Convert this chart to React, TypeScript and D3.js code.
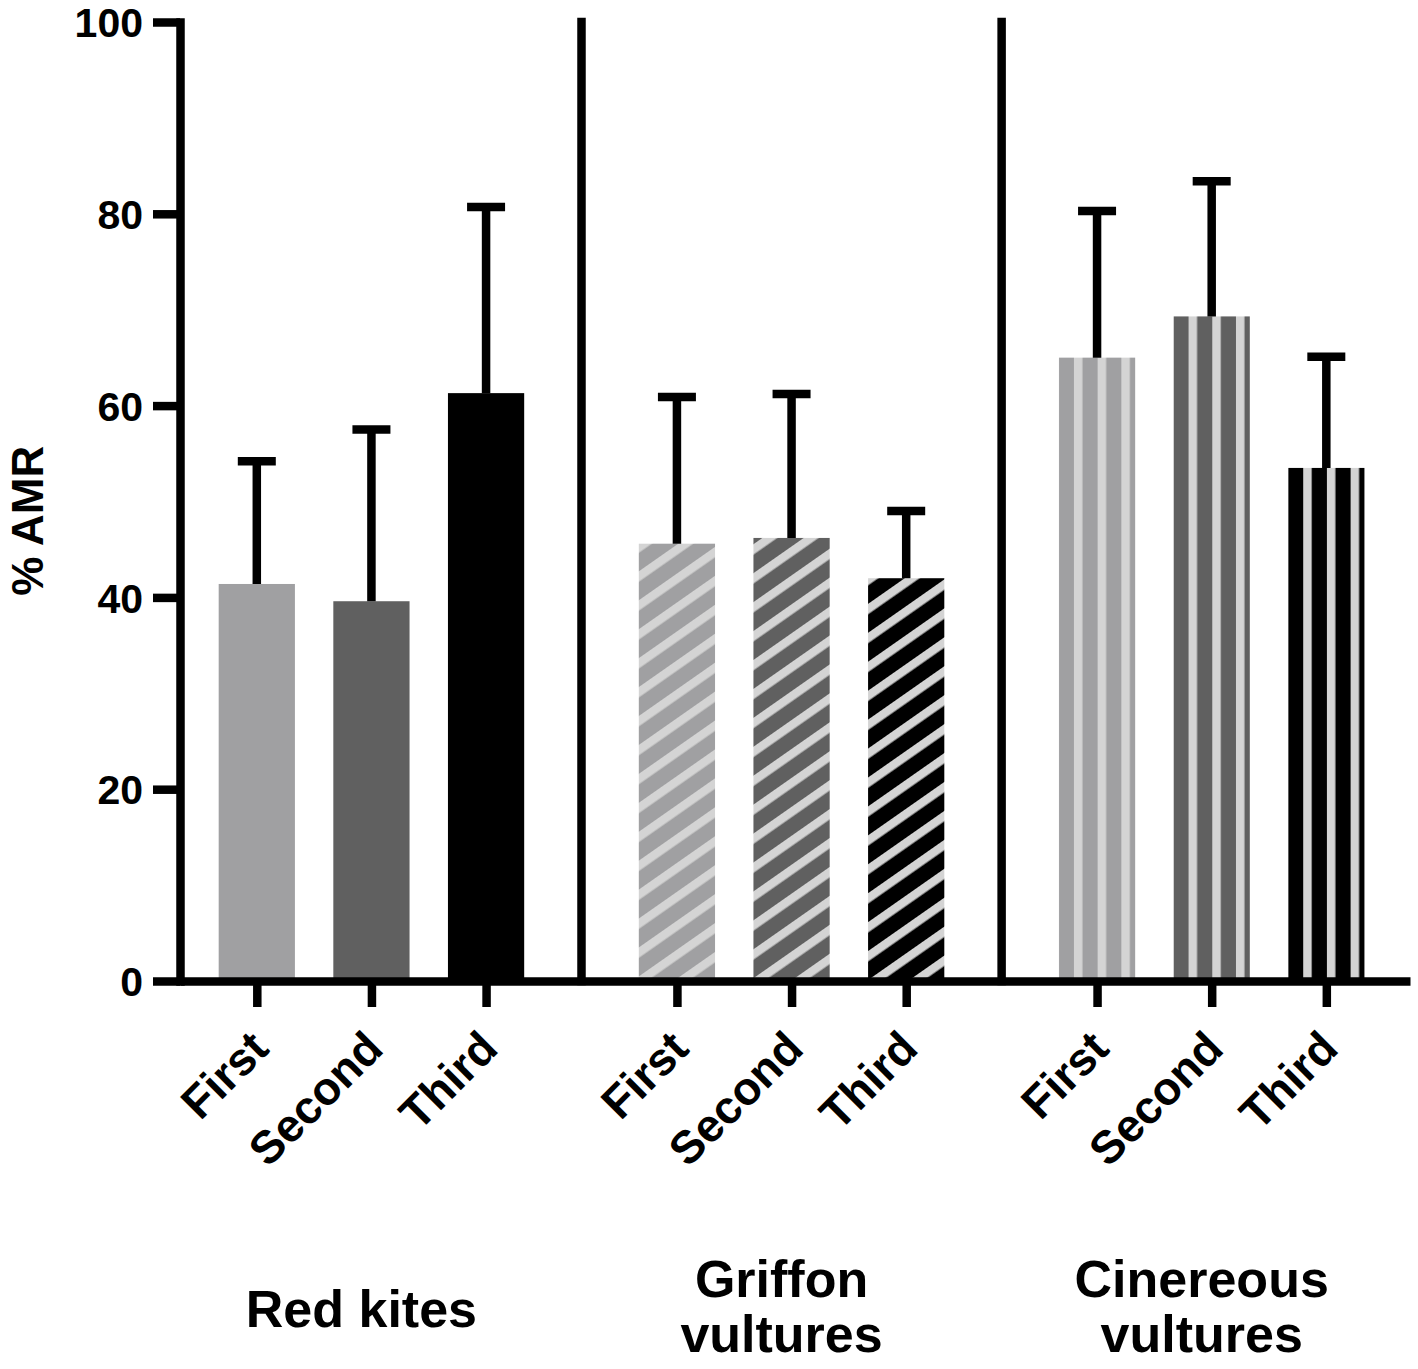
import { useRef, useEffect } from 'react';
import * as d3 from 'd3';

const groups = ['Red kites', 'Griffon vultures', 'Cinereous vultures'];
const groupLines = [['Red kites'], ['Griffon', 'vultures'], ['Cinereous', 'vultures']];
const orders = ['First', 'Second', 'Third'];

// mean % AMR and top of the error bar, per sampling order
const redKitesMean = [41.4, 39.6, 61.3];
const redKitesUpper = [54.2, 57.5, 80.7];
const griffonMean = [45.6, 46.2, 42.0];
const griffonUpper = [60.9, 61.2, 49.0];
const cinereousMean = [65.0, 69.3, 53.5];
const cinereousUpper = [80.3, 83.4, 65.1];

const yTicks = [0, 20, 40, 60, 80, 100];

const orderColors = ['#a0a0a2', '#606060', '#000000'];
const stripeColor = '#d4d4d4';
const groupPattern = ['solid', 'diagonal', 'vertical'];

type Bar = { group: number; order: number; mean: number; upper: number; pos: number };

export default function App() {
  const svgRef = useRef<SVGSVGElement>(null);

  useEffect(() => {
    document.body.style.margin = '0';
    if (!svgRef.current) return;
    const svg = d3.select(svgRef.current);
    svg.selectAll('*').remove();

    const font = '"Liberation Sans", Arial, Helvetica, sans-serif';
    const means = [redKitesMean, griffonMean, cinereousMean];
    const uppers = [redKitesUpper, griffonUpper, cinereousUpper];
    const groupStep = 3.665;
    const bars: Bar[] = [];
    groups.forEach((_, g) => orders.forEach((_, i) => {
      bars.push({ group: g, order: i, mean: means[g][i], upper: uppers[g][i], pos: g * groupStep + i });
    }));

    const x = d3.scaleLinear().domain([-0.67, 10.06]).range([180, 1410]);
    const y = d3.scaleLinear().domain([0, 100]).range([981, 22]);
    const slot = x(1) - x(0);
    const bw = slot * 0.665;

    // patterns
    const defs = svg.append('defs');
    bars.forEach((b, k) => {
      const kind = groupPattern[b.group];
      if (kind === 'solid') return;
      const left = x(b.pos) - bw / 2;
      const p = defs.append('pattern').attr('id', `pat${k}`)
        .attr('patternUnits', 'userSpaceOnUse')
        .attr('width', 23.7).attr('height', 20);
      if (kind === 'vertical') p.attr('x', left + 15).attr('y', 0);
      else p.attr('x', left + 6).attr('y', y(b.mean)).attr('patternTransform', 'rotate(55)');
      p.append('rect').attr('width', 23.7).attr('height', 20).attr('fill', orderColors[b.order]);
      p.append('rect').attr('width', 8.5).attr('height', 20).attr('fill', stripeColor);
    });

    const g = svg.append('g');

    // bars
    g.selectAll('rect.bar').data(bars).enter().append('rect')
      .attr('class', 'bar')
      .attr('x', d => x(d.pos) - bw / 2)
      .attr('width', bw)
      .attr('y', d => y(d.mean))
      .attr('height', d => y(0) - y(d.mean))
      .attr('fill', (d, k) => groupPattern[d.group] === 'solid' ? orderColors[d.order] : `url(#pat${k})`);

    // error bars (upper only)
    g.selectAll('line.stem').data(bars).enter().append('line')
      .attr('x1', d => x(d.pos)).attr('x2', d => x(d.pos))
      .attr('y1', d => y(d.mean)).attr('y2', d => y(d.upper))
      .attr('stroke', '#000').attr('stroke-width', 8.5);
    g.selectAll('line.cap').data(bars).enter().append('line')
      .attr('x1', d => x(d.pos) - 19).attr('x2', d => x(d.pos) + 19)
      .attr('y1', d => y(d.upper)).attr('y2', d => y(d.upper))
      .attr('stroke', '#000').attr('stroke-width', 8.5);

    // group dividers
    const dividers = [(2 + groupStep) / 2, (groupStep + 2 + 2 * groupStep) / 2];
    g.selectAll('line.div').data(dividers).enter().append('line')
      .attr('x1', d => x(d)).attr('x2', d => x(d))
      .attr('y1', y(100)).attr('y2', y(0))
      .attr('stroke', '#000').attr('stroke-width', 8.5).attr('stroke-linecap', 'square');

    // y axis
    const ya = g.append('g').attr('transform', `translate(${x(-0.67)},0)`)
      .call(d3.axisLeft(y).tickValues(yTicks).tickSize(27).tickSizeOuter(0).tickPadding(10));
    ya.select('.domain').attr('stroke-width', 8.5).attr('stroke-linecap', 'square');
    ya.selectAll('.tick line').attr('stroke-width', 8.5);
    ya.selectAll('.tick text').attr('font-family', font).attr('font-weight', 'bold')
      .attr('font-size', 41).attr('fill', '#000').attr('dy', '0.36em');

    // x axis
    const xa = g.append('g').attr('transform', `translate(0,${y(0)})`)
      .call(d3.axisBottom(x).tickValues(bars.map(b => b.pos)).tickSize(26).tickSizeOuter(0).tickFormat(() => ''));
    xa.select('.domain').attr('stroke-width', 8.5);
    xa.selectAll('.tick line').attr('stroke-width', 8.5);

    // order labels
    g.selectAll('text.order').data(bars).enter().append('text')
      .attr('transform', d => `translate(${x(d.pos) + 14},${y(0) + 70}) rotate(-45)`)
      .attr('text-anchor', 'end')
      .attr('font-family', font).attr('font-weight', 'bold').attr('font-size', 46)
      .text(d => orders[d.order]);

    // group labels
    groupLines.forEach((lines, gi) => {
      const cx = x(gi * groupStep + 1) - 10;
      const t = g.append('text').attr('text-anchor', 'middle')
        .attr('font-family', font).attr('font-weight', 'bold').attr('font-size', 52);
      const base = lines.length === 1 ? 1327 : 1297;
      lines.forEach((line, li) => {
        t.append('tspan').attr('x', cx).attr('y', base + li * 55).text(line);
      });
    });

    // y title
    g.append('text')
      .attr('transform', `translate(43,${y(48)}) rotate(-90)`)
      .attr('text-anchor', 'middle')
      .attr('font-family', font).attr('font-weight', 'bold').attr('font-size', 44)
      .text('% AMR');
  }, []);

  return <svg ref={svgRef} width={1418} height={1369} style={{ display: 'block', background: '#fff' }} />;
}
